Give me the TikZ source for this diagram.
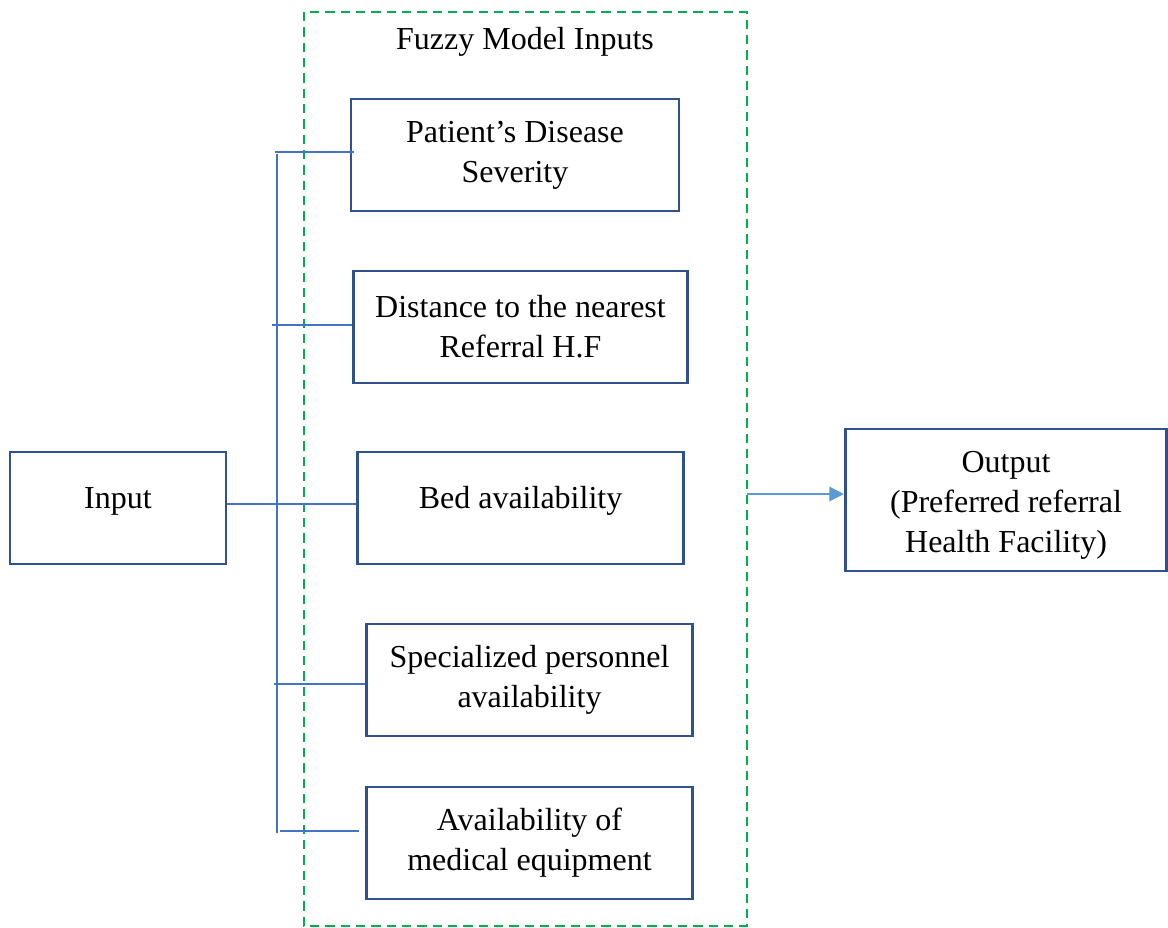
\documentclass[tikz,border=0pt]{standalone}
\usepackage{fontspec}
\setmainfont{Liberation Serif}
\usetikzlibrary{arrows.meta}
\definecolor{boxblue}{HTML}{2F528F}
\definecolor{busblue}{HTML}{4472C4}
\definecolor{arrowblue}{HTML}{5B9BD5}
\definecolor{groupgreen}{HTML}{00B050}
\begin{document}
\begin{tikzpicture}[x=0.75pt,y=-0.75pt,
  txt/.style={font=\fontsize{24}{30}\selectfont, align=center},
  block/.style={txt, draw=boxblue, line width=2.1pt, inner sep=0pt,
                minimum height=84pt},
  oneline/.style={text height=16pt, text depth=16pt},
  bus/.style={draw=busblue, line width=0.95pt},
  group/.style={draw=groupgreen, line width=1.6pt, dash pattern=on 7pt off 4.5pt},
  flow/.style={draw=arrowblue, line width=1pt, -{Triangle[length=11pt,width=11pt]}}]
\useasboundingbox (0,0) rectangle (1168,928);

% dashed group frame and its caption
\draw[group] (304,12) rectangle (747,926);
\node[txt] (title) at (525,42) {Fuzzy Model Inputs};

% fuzzy model inputs
\node[block, minimum width=246pt] (b1) at (515,155) {Patient’s Disease\\Severity};
\node[block, minimum width=250pt] (b2) at (520.5,327) {Distance to the nearest\\Referral H.F};
\node[block, oneline, minimum width=245pt] (b3) at (520.5,508) {Bed availability};
\node[block, minimum width=245pt] (b4) at (529.5,680) {Specialized personnel\\availability};
\node[block, minimum width=245pt] (b5) at (529.5,843) {Availability of\\medical equipment};

% input and output
\node[block, oneline, minimum width=162pt] (in) at (118,508) {Input};
\node[block, minimum width=241pt, minimum height=106.5pt] (out) at (1006,500)
  {\rule{0pt}{24pt}Output\\(Preferred referral\\Health Facility)};

% distribution bus
\coordinate (top) at (277,154);
\coordinate (bot) at (277,833);
\coordinate (t1) at (275,152);
\coordinate (t2) at (272,325);
\coordinate (t4) at (274,684);
\coordinate (t5) at (280,831);
\draw[bus] (top) -- (bot);
\draw[bus] (t1) -- ([xshift=3pt]b1.west |- t1);
\draw[bus] (t2) -- (b2.west |- t2);
\draw[bus] (in.east |- 0,504) -- (b3.west |- 0,504);
\draw[bus] (t4) -- (b4.west |- t4);
\draw[bus] (t5) -- ([xshift=-4.5pt]b5.west |- t5);

% result arrow
\coordinate (gr) at (747,494);
\draw[flow] (gr) -- (out.west |- gr);
\end{tikzpicture}
\end{document}
